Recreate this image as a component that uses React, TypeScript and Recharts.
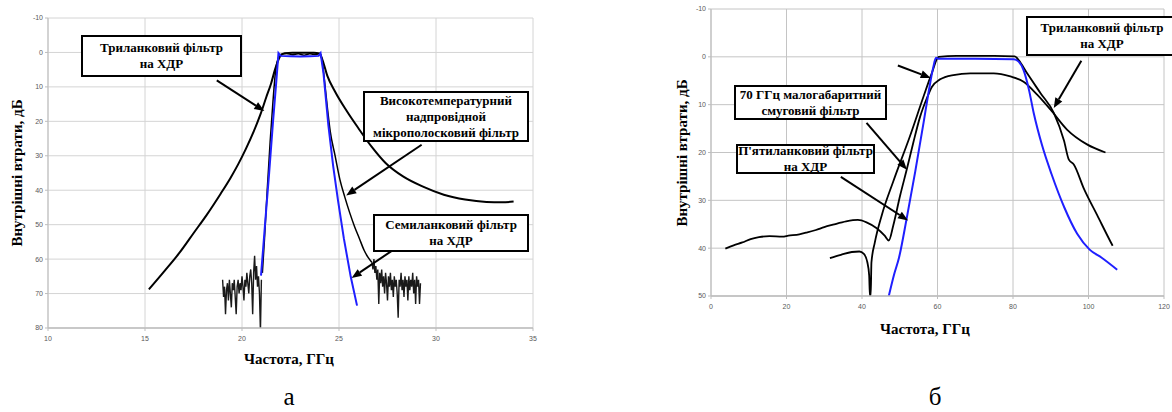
import React from "react";
import { LineChart, Line, XAxis, YAxis, CartesianGrid, ReferenceLine } from "recharts";

// ---- chart а : axes
const aTicksX = [10, 15, 20, 25, 30, 35];
const aTicksY = [-10, 0, 10, 20, 30, 40, 50, 60, 70, 80];

// Триланковий фільтр на ХДР (wide black curve), [GHz, dB]
const aTri = [
  [15.2, 68.8], [16.0, 63.5], [16.8, 58], [17.5, 52.5], [18.2, 47], [18.9, 41], [19.4, 36.5],
  [19.8, 32.5], [20.2, 28], [20.6, 23], [20.95, 18], [21.25, 13], [21.5, 9], [21.7, 5],
  [21.85, 2.5], [22.0, 0.8], [22.2, 0.2], [22.6, 0.1], [23.2, 0.1], [23.7, 0.1], [24.0, 0.3],
  [24.15, 2.2], [24.4, 6.8], [24.8, 11.4], [25.4, 17], [26.0, 22], [26.7, 27.5], [27.4, 32.1],
  [28.3, 36], [29.3, 38.9], [30.4, 41.3], [31.5, 42.7], [32.6, 43.4], [33.4, 43.5], [34.0, 43.3],
];

// Семиланковий фільтр на ХДР (blue)
const aSeven = [
  [20.98, 64.8], [21.2, 49], [21.4, 35], [21.6, 20], [21.76, 9], [21.88, 0.2], [22.0, 1.0],
  [22.5, 1.1], [23.0, 1.2], [23.5, 1.1], [23.95, 1.0], [24.05, 0.2], [24.2, 6], [24.45, 21],
  [24.7, 33], [24.95, 43], [25.25, 54], [25.6, 65], [25.93, 73.5],
];

// Високотемпературний надпровідной мікрополосковий фільтр (noisy measured curve)
const aHtsLow = [
  [19.0, 66], [19.05, 71], [19.1, 68], [19.15, 76], [19.2, 69], [19.25, 67], [19.3, 72],
  [19.35, 66], [19.4, 70], [19.45, 74], [19.5, 67], [19.55, 69], [19.6, 66], [19.65, 71],
  [19.7, 76], [19.75, 68], [19.8, 66], [19.85, 70], [19.9, 67], [19.95, 69], [20.0, 65],
  [20.05, 68], [20.1, 72], [20.15, 66], [20.2, 68], [20.25, 64], [20.3, 67], [20.35, 70],
  [20.4, 65], [20.45, 63], [20.5, 67], [20.55, 76], [20.6, 64], [20.65, 59], [20.7, 66],
  [20.75, 62], [20.8, 68], [20.85, 65], [20.9, 70], [20.95, 81], [21.0, 66],
];
const aHtsBand = [
  [21.05, 64], [21.15, 55], [21.3, 40], [21.45, 26], [21.6, 14], [21.72, 6], [21.85, 2],
  [22.0, 0.6], [22.3, 0.3], [22.6, 0.7], [22.9, 0.4], [23.2, 0.8], [23.5, 0.4], [23.8, 0.6],
  [24.0, 0.3], [24.12, 2], [24.25, 8], [24.4, 16], [24.55, 23], [24.8, 30], [25.05, 37],
  [25.3, 42], [25.55, 46.5], [25.8, 50.5], [26.05, 54], [26.3, 57.5], [26.5, 59.5], [26.7, 61],
];
const aHtsHigh = [
  [26.7, 61], [26.75, 63], [26.8, 60], [26.85, 64], [26.9, 62], [26.95, 66], [27.0, 63],
  [27.05, 73], [27.1, 64], [27.15, 67], [27.2, 63], [27.25, 68], [27.3, 65], [27.35, 70],
  [27.4, 64], [27.45, 67], [27.5, 72], [27.55, 65], [27.6, 68], [27.65, 64], [27.7, 69],
  [27.75, 66], [27.8, 71], [27.85, 65], [27.9, 68], [27.95, 66], [28.0, 70], [28.05, 77],
  [28.1, 66], [28.15, 68], [28.2, 64], [28.25, 69], [28.3, 66], [28.35, 71], [28.4, 65],
  [28.45, 68], [28.5, 66], [28.55, 72], [28.6, 65], [28.65, 69], [28.7, 66], [28.75, 68],
  [28.8, 64], [28.85, 70], [28.9, 66], [28.95, 73], [29.0, 65], [29.05, 68], [29.1, 66],
  [29.15, 73], [29.2, 67],
];

// arrows of chart а: [fromGHz, fromDb, toGHz, toDb]
const aArrows = [
  [18.7, 8.1, 21.15, 17.0],
  [29.26, 26.8, 25.37, 41.5],
  [27.72, 57.6, 25.65, 65.5],
];

// ---- chart б : axes
const bTicksX = [0, 20, 40, 60, 80, 100, 120];
const bTicksY = [-10, 0, 10, 20, 30, 40, 50];

// Триланковий фільтр на ХДР
const bTri = [
  [3.8, 40.1], [6, 39.4], [8.3, 38.8], [10.5, 38.1], [12.7, 37.7], [15.5, 37.5], [18.9, 37.6],
  [20.5, 37.4], [23.4, 37.1], [25.5, 36.7], [27.8, 36.2], [30, 35.6], [32.3, 35.1], [35.8, 34.4],
  [38.9, 34.1], [41.2, 34.6], [43.8, 35.8], [46.0, 37.4], [47.1, 38.4], [48.3, 35.2], [50.1, 29],
  [51.9, 23.4], [53.6, 17.9], [55.4, 12.5], [57.2, 8.6], [58.5, 6.3], [60.7, 4.7], [64.2, 3.8],
  [68.7, 3.45], [74.9, 3.45], [79.3, 4.1], [82.8, 5.2], [86.4, 7.9], [89.9, 11], [94.3, 15.2],
  [99.6, 18.3], [104.5, 20],
];

// 70 ГГц малогабаритний смуговий фільтр
const b70 = [
  [31.5, 42.1], [34.4, 41.4], [37.3, 40.8], [39.3, 40.7], [40.5, 41.2], [41.4, 42.9], [41.9, 45.7],
  [42.1, 50], [42.3, 50], [42.5, 43], [43.4, 38.8], [45.2, 33.2], [48.3, 26], [52.7, 16.6],
  [56.3, 8.3], [58.5, 3.4], [60.3, 0], [65, -0.2], [75, -0.2], [80.5, -0.1], [81.5, 0.7],
  [83.7, 3.4], [87.3, 7.6], [90.8, 11.7], [93.5, 17.5], [94.8, 21.5], [96.1, 22.5], [98.8, 27.6],
  [102.3, 33.1], [105.8, 38.6], [106.4, 39.5],
];

// П'ятиланковий фільтр на ХДР (blue)
const bFive = [
  [47.1, 50], [48.5, 45.5], [49.8, 42], [51.9, 33.5], [54.1, 24], [56.3, 13.8], [57.6, 7.6],
  [58.9, 2.1], [59.6, 0.2], [60.3, 0.4], [70, 0.4], [80.2, 0.5], [81.5, 1.0], [82.8, 2.8],
  [84.2, 6.8], [85.5, 11.8], [87.7, 18.5], [90.2, 24.5], [93.6, 31.5], [97, 37], [100.3, 40.3],
  [103.5, 42], [107.6, 44.5],
];

const bArrows = [
  [98.1, 0.8, 90.8, 10.7],
  [41.2, 13.8, 51.9, 23.6],
  [34.4, 25.1, 52.2, 34.2],
  [49.5, 1.8, 58.2, 4.4],
];

const toPts = (pairs: number[][]) => pairs.map(([f, db]) => ({ f, db }));

const serif = '"Liberation Serif", "Times New Roman", serif';
const tickStyle = { fontSize: 7, fill: "#595959", fontFamily: '"Liberation Sans", Arial, sans-serif' };

function Arrow(props: any) {
  const { x1, y1, x2, y2 } = props;
  if ([x1, y1, x2, y2].some((v) => typeof v !== "number" || isNaN(v))) return null;
  const dx = x2 - x1, dy = y2 - y1;
  const len = Math.hypot(dx, dy) || 1;
  const ux = dx / len, uy = dy / len;
  const hl = 10, hw = 4;
  const bx = x2 - ux * hl, by = y2 - uy * hl;
  const pts = `${x2},${y2} ${bx - uy * hw},${by + ux * hw} ${bx + uy * hw},${by - ux * hw}`;
  return (
    <g>
      <line x1={x1} y1={y1} x2={bx} y2={by} stroke="#000" strokeWidth={2} />
      <polygon points={pts} fill="#000" />
    </g>
  );
}

function Box({ left, top, width, height, lines }: { left: number; top: number; width: number; height: number; lines: string[] }) {
  return (
    <div
      style={{
        position: "absolute", left, top, width, height, boxSizing: "border-box",
        border: "2.5px solid #000", background: "#fff", display: "flex", flexDirection: "column",
        justifyContent: "center", alignItems: "center", fontFamily: serif, fontWeight: "bold",
        fontSize: 13, lineHeight: "16px", color: "#000", whiteSpace: "nowrap",
      }}
    >
      {lines.map((l) => <div key={l}>{l}</div>)}
    </div>
  );
}

function Label({ x, y, text, size = 15, bold = true, rotate = false }: { x: number; y: number; text: string; size?: number; bold?: boolean; rotate?: boolean }) {
  return (
    <div
      style={{
        position: "absolute", left: x, top: y, transform: `translate(-50%, -50%)${rotate ? " rotate(-90deg)" : ""}`,
        fontFamily: serif, fontWeight: bold ? "bold" : "normal", fontSize: size, lineHeight: 1,
        whiteSpace: "nowrap", color: "#000",
      }}
    >
      {text}
    </div>
  );
}

export default function App() {
  return (
    <div style={{ position: "absolute", left: 0, top: 0, width: 1172, height: 412, overflow: "hidden", background: "#fff" }}>
      {/* chart а */}
      <div style={{ position: "absolute", left: 0, top: 0 }}>
        <LineChart width={560} height={352} margin={{ top: 18, right: 27, bottom: 4, left: 8 }}>
          <CartesianGrid stroke="#d4d4d4" strokeWidth={1} />
          <XAxis type="number" dataKey="f" domain={[10, 35]} ticks={aTicksX} allowDataOverflow
            axisLine={{ stroke: "#bdbdbd", strokeWidth: 1.5 }} tickLine={{ stroke: "#bdbdbd" }} tickSize={3} tickMargin={5} tick={tickStyle} height={20} />
          <YAxis type="number" domain={[-10, 80]} ticks={aTicksY} reversed allowDataOverflow
            axisLine={{ stroke: "#bdbdbd" }} tickLine={{ stroke: "#bdbdbd" }} tickSize={3} tickMargin={2} tick={tickStyle} width={40} />
          <Line data={toPts(aTri)} dataKey="db" type="monotone" stroke="#000" strokeWidth={2} dot={false} isAnimationActive={false} />
          <Line data={toPts(aHtsLow)} dataKey="db" stroke="#1a1a1a" strokeWidth={1.4} dot={false} isAnimationActive={false} />
          <Line data={toPts(aHtsBand)} dataKey="db" type="monotone" stroke="#000" strokeWidth={1.5} dot={false} isAnimationActive={false} />
          <Line data={toPts(aHtsHigh)} dataKey="db" stroke="#1a1a1a" strokeWidth={1.4} dot={false} isAnimationActive={false} />
          <Line data={toPts(aSeven)} dataKey="db" stroke="#1f1fff" strokeWidth={2} dot={false} isAnimationActive={false} />
          {aArrows.map((a, i) => (
            <ReferenceLine key={i} segment={[{ x: a[0], y: a[1] }, { x: a[2], y: a[3] }]} shape={Arrow} />
          ))}
        </LineChart>
      </div>
      <Box left={81} top={35} width={161} height={42} lines={["Триланковий фільтр", "на ХДР"]} />
      <Box left={363} top={91} width={166} height={51} lines={["Високотемпературний", "надпровідной", "мікрополосковий фільтр"]} />
      <Box left={373} top={214} width={156} height={38} lines={["Семиланковий фільтр", "на ХДР"]} />
      <Label x={17} y={173} text="Внутрішні втрати, дБ" rotate />
      <Label x={289} y={359} text="Частота, ГГц" />
      <Label x={289} y={396} text="а" size={25} bold={false} />

      {/* chart б */}
      <div style={{ position: "absolute", left: 640, top: 0 }}>
        <LineChart width={532} height={320} margin={{ top: 9, right: 8, bottom: 4, left: 31 }}>
          <CartesianGrid stroke="#c4c4c4" strokeWidth={1} />
          <XAxis type="number" dataKey="f" domain={[0, 120]} ticks={bTicksX} allowDataOverflow
            axisLine={{ stroke: "#bdbdbd", strokeWidth: 1.5 }} tickLine={{ stroke: "#bdbdbd" }} tickSize={3} tickMargin={5} tick={tickStyle} height={20} />
          <YAxis type="number" domain={[-10, 50]} ticks={bTicksY} reversed allowDataOverflow
            axisLine={{ stroke: "#bdbdbd" }} tickLine={{ stroke: "#bdbdbd" }} tickSize={3} tickMargin={2} tick={tickStyle} width={40} />
          <Line data={toPts(bTri)} dataKey="db" type="monotone" stroke="#000" strokeWidth={1.8} dot={false} isAnimationActive={false} />
          <Line data={toPts(b70)} dataKey="db" type="monotone" stroke="#000" strokeWidth={1.8} dot={false} isAnimationActive={false} />
          <Line data={toPts(bFive)} dataKey="db" type="monotone" stroke="#1f1fff" strokeWidth={2} dot={false} isAnimationActive={false} />
          {bArrows.map((a, i) => (
            <ReferenceLine key={i} segment={[{ x: a[0], y: a[1] }, { x: a[2], y: a[3] }]} shape={Arrow} />
          ))}
        </LineChart>
      </div>
      <Box left={1026} top={16} width={152} height={40} lines={["Триланковий фільтр", "на ХДР"]} />
      <Box left={734} top={85} width={153} height={35} lines={["70 ГГц малогабаритний", "смуговий фільтр"]} />
      <Box left={736} top={144} width={139} height={30} lines={["П'ятиланковий фільтр", "на ХДР"]} />
      <Label x={682} y={153} text="Внутрішні втрати, дБ" rotate />
      <Label x={925} y={329} text="Частота, ГГц" />
      <Label x={935} y={396} text="б" size={25} bold={false} />
    </div>
  );
}
